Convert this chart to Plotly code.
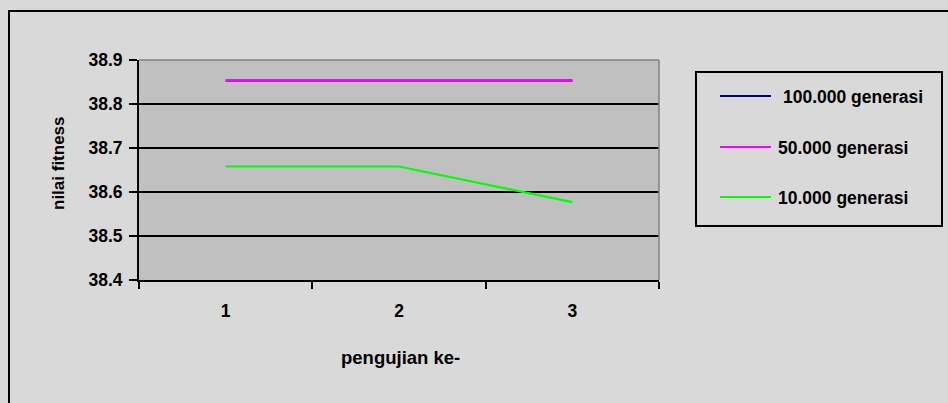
import plotly.graph_objects as go

# ---- data ----
categories = ["1", "2", "3"]
series_names = ["100.000 generasi", "50.000 generasi", "10.000 generasi"]
values_100k = [38.853, 38.853, 38.853]
values_50k = [38.853, 38.853, 38.853]
values_10k = [38.658, 38.658, 38.577]
series_colors = ["#000080", "#FF00FF", "#00FF00"]
y_ticks = [38.4, 38.5, 38.6, 38.7, 38.8, 38.9]
y_tick_labels = ["38.4", "38.5", "38.6", "38.7", "38.8", "38.9"]
x_title = "pengujian ke-"
y_title = "nilai fitness"

W, H = 948, 403
L, R, T, B = 139, 289, 60, 123
PW, PH = W - L - R, H - T - B

FONT = "Liberation Sans, Arial, sans-serif"


def px_x(px):
    return (px - L) / PW


def px_y(py):
    return (H - B - py) / PH


def bold(size):
    return dict(family=FONT, size=size, color="black", weight="bold")


fig = go.Figure()
for name, vals, col in zip(series_names, [values_100k, values_50k, values_10k], series_colors):
    fig.add_trace(go.Scatter(x=categories, y=vals, mode="lines", name=name,
                             line=dict(color=col, width=2.2), showlegend=False,
                             hoverinfo="skip"))

shapes = []
# plot area top/right border (gray)
shapes.append(dict(type="line", xref="x domain", yref="y domain", x0=0, x1=1, y0=1, y1=1,
                   line=dict(color="#808080", width=1.5), layer="above"))
shapes.append(dict(type="line", xref="x domain", yref="y domain", x0=1, x1=1, y0=0, y1=1,
                   line=dict(color="#808080", width=1.5), layer="above"))
# outer chart border
shapes.append(dict(type="rect", xref="paper", yref="paper",
                   x0=px_x(9), x1=px_x(960), y0=px_y(415), y1=px_y(11),
                   line=dict(color="black", width=2), fillcolor="rgba(0,0,0,0)", layer="below"))
# legend box
shapes.append(dict(type="rect", xref="paper", yref="paper",
                   x0=px_x(696), x1=px_x(942), y0=px_y(226), y1=px_y(72),
                   line=dict(color="black", width=2), fillcolor="rgba(0,0,0,0)"))

annotations = []
legend_rows = [96, 147, 197]
text_offsets = [781, 776, 776]
for name, col, ry, tx in zip(series_names, series_colors, legend_rows, text_offsets):
    shapes.append(dict(type="line", xref="paper", yref="paper",
                       x0=px_x(720), x1=px_x(771), y0=px_y(ry), y1=px_y(ry),
                       line=dict(color=col, width=2)))
    annotations.append(dict(text=name, xref="paper", yref="paper", x=px_x(tx), y=px_y(ry + 1),
                            xanchor="left", yanchor="middle", showarrow=False,
                            font=bold(17.5)))

# axis titles
annotations.append(dict(text=x_title, xref="paper", yref="paper", x=px_x(400), y=px_y(357),
                        xanchor="center", yanchor="middle", showarrow=False, font=bold(18.5)))
annotations.append(dict(text=y_title, xref="paper", yref="paper", x=px_x(58), y=px_y(163),
                        xanchor="center", yanchor="middle", showarrow=False, textangle=-90,
                        font=bold(17)))

fig.update_layout(
    width=W, height=H,
    margin=dict(l=L, r=R, t=T, b=B, autoexpand=False),
    paper_bgcolor="#D9D9D9",
    plot_bgcolor="#C0C0C0",
    showlegend=False,
    shapes=shapes,
    annotations=annotations,
    font=bold(17),
    xaxis=dict(
        type="category", range=[-0.5, 2.5], tickson="boundaries",
        ticks="outside", ticklen=7, tickwidth=2, tickcolor="black",
        showline=True, linecolor="black", linewidth=2, showgrid=False,
        ticklabelstandoff=14,
        tickfont=bold(17.5),
        automargin=False, zeroline=False,
    ),
    yaxis=dict(
        range=[38.4, 38.9], tickvals=y_ticks, ticktext=y_tick_labels,
        ticks="outside", ticklen=8, tickwidth=2, tickcolor="black",
        showline=True, linecolor="black", linewidth=2,
        showgrid=True, gridcolor="black", gridwidth=1.5,
        ticklabelstandoff=3,
        tickfont=bold(17.5),
        automargin=False, zeroline=False,
    ),
)

fig.write_html("out.html", config={"displayModeBar": False},
               post_script="document.body.style.margin='0px';document.body.style.padding='0px';")
